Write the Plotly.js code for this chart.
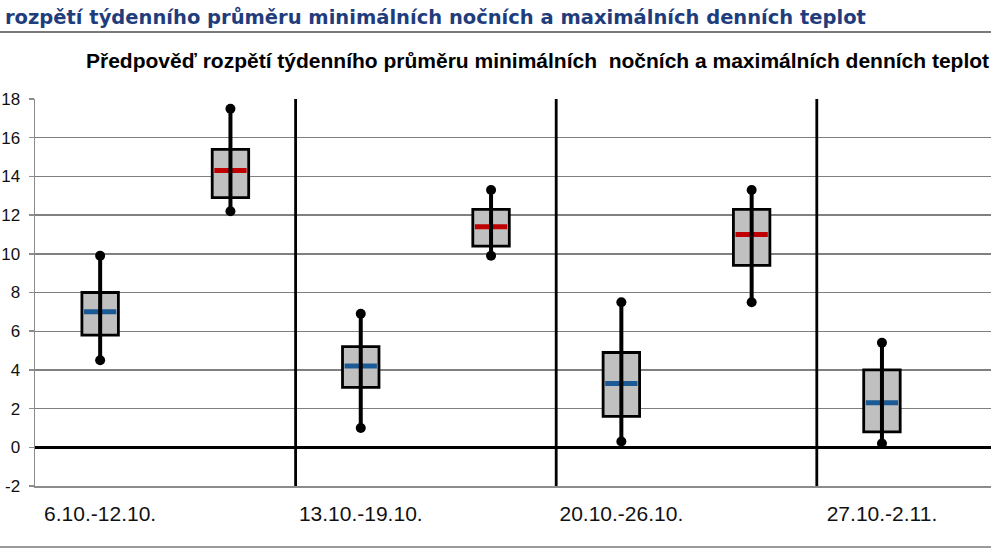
<!DOCTYPE html>
<html>
<head>
<meta charset="utf-8">
<script src="https://cdn.plot.ly/plotly-3.0.1.min.js"></script>
<style>
html,body{margin:0;padding:0;background:#fff;}
#chart{width:991px;height:558px;}
</style>
</head>
<body>
<div id="chart"></div>
<script>
// ---- data ----
const weeks = ['6.10.-12.10.', '13.10.-19.10.', '20.10.-26.10.', '27.10.-2.11.'];
// weekly average of minimum night temperatures
const minLow  = [4.5, 1.0, 0.3, 0.2];
const minQ1   = [5.8, 3.1, 1.6, 0.8];
const minMed  = [7.0, 4.2, 3.3, 2.3];
const minQ3   = [8.0, 5.2, 4.9, 4.0];
const minHigh = [9.9, 6.9, 7.5, 5.4];
// weekly average of maximum day temperatures
const maxLow  = [12.2, 9.9, 7.5];
const maxQ1   = [12.9, 10.4, 9.4];
const maxMed  = [14.3, 11.4, 11.0];
const maxQ3   = [15.4, 12.3, 12.3];
const maxHigh = [17.5, 13.3, 13.3];
const yTicks  = [-2, 0, 2, 4, 6, 8, 10, 12, 14, 16, 18];
const yTickLabels = ['-2', '0', '2', '4', '6', '8', '10', '12', '14', '16', '18'];

const headingText = 'rozpětí týdenního průměru minimálních nočních a maximálních denních teplot';
const titleText = 'Předpověď rozpětí týdenního průměru minimálních  nočních a maximálních denních teplot';

// ---- layout helpers ----
const W = 991, H = 558;
const mL = 35, mR = 0, mT = 99, mB = 72;
const plotW = W - mL - mR, plotH = H - mT - mB;
const weekPx = 260.6;
const xMax = plotW / weekPx;
const offMin = 0.25, offMax = 0.75;
const boxW = 0.14, medHalf = 0.062;
const px2paperX = p => (p - mL) / plotW;
const px2paperY = p => (H - mB - p) / plotH;

function pos(arr, off) { return arr.map((_, i) => i + off); }

function segX(arr, off, half) {
  const out = [];
  arr.forEach((_, i) => { out.push(i + off - half, i + off + half, null); });
  return out;
}
function segY(a, b) {
  const out = [];
  a.forEach((v, i) => { out.push(v, b ? b[i] : v, null); });
  return out;
}

function boxTraces(low, q1, med, q3, high, off, medColor, name) {
  return [
    {
      type: 'bar', name: name, x: pos(q1, off), base: q1,
      y: q3.map((v, i) => v - q1[i]), width: boxW,
      marker: {color: '#c0c0c0', line: {color: '#000', width: 2.8}},
      hoverinfo: 'skip', showlegend: false
    },
    {
      type: 'scatter', mode: 'lines', x: segX(med, off, medHalf), y: segY(med),
      line: {color: medColor, width: 5}, hoverinfo: 'skip', showlegend: false
    },
    {
      type: 'scatter', mode: 'lines+markers', x: segX(low, off, 0), y: segY(low, high),
      line: {color: '#000', width: 4}, marker: {color: '#000', size: 10},
      hoverinfo: 'skip', showlegend: false
    }
  ];
}

const data = [
  ...boxTraces(minLow, minQ1, minMed, minQ3, minHigh, offMin, '#1c5a96', 'min'),
  ...boxTraces(maxLow, maxQ1, maxMed, maxQ3, maxHigh, offMax, '#c00000', 'max')
];

const shapes = [];
for (let i = 1; i < weeks.length; i++) {
  shapes.push({type: 'line', xref: 'x', yref: 'paper', x0: i, x1: i, y0: 0, y1: 1,
               line: {color: '#000', width: 2.8}, layer: 'above'});
}
// rule under heading and bottom rule
shapes.push({type: 'line', xref: 'paper', yref: 'paper', x0: px2paperX(0), x1: px2paperX(W),
             y0: px2paperY(32), y1: px2paperY(32), line: {color: '#7a7a7a', width: 2}});
shapes.push({type: 'line', xref: 'paper', yref: 'paper', x0: px2paperX(0), x1: px2paperX(W),
             y0: px2paperY(547), y1: px2paperY(547), line: {color: '#9a9a9a', width: 2}});

const layout = {
  width: W, height: H,
  margin: {l: mL, r: mR, t: mT, b: mB, pad: 0},
  paper_bgcolor: '#fff', plot_bgcolor: '#fff',
  showlegend: false, barmode: 'overlay',
  font: {family: 'Liberation Sans, Arial, sans-serif', color: '#111', size: 16},
  xaxis: {
    type: 'linear', range: [0, xMax], fixedrange: true,
    tickvals: pos(weeks, offMin), ticktext: weeks,
    showgrid: false, zeroline: false, ticks: '', ticklabelstandoff: 8,
    showline: true, linecolor: '#8c8c8c', linewidth: 1.5,
    tickfont: {size: 21, color: '#111'}
  },
  yaxis: {
    range: [-2, 18], fixedrange: true, tickvals: yTicks, ticktext: yTickLabels,
    showgrid: true, gridcolor: '#808080', gridwidth: 1.4,
    zeroline: true, zerolinecolor: '#000', zerolinewidth: 3.5,
    showline: true, linecolor: '#8c8c8c', linewidth: 1.5,
    ticks: 'outside', ticklen: 5, tickcolor: '#8c8c8c', tickwidth: 1.5,
    ticklabelstandoff: 5,
    tickfont: {size: 17, color: '#111'}
  },
  shapes: shapes,
  annotations: [
    {text: '<b>' + headingText + '</b>', xref: 'paper', yref: 'paper',
     x: px2paperX(3), y: px2paperY(17), xanchor: 'left', yanchor: 'middle', showarrow: false,
     font: {family: 'DejaVu Sans, Verdana, sans-serif', size: 19.5, color: '#1f3d7c'}},
    {text: '<b>' + titleText + '</b>', xref: 'paper', yref: 'paper',
     x: px2paperX(84), y: px2paperY(60), xanchor: 'left', yanchor: 'middle', showarrow: false,
     font: {family: 'Liberation Sans, Arial, sans-serif', size: 21, color: '#000'}}
  ]
};

Plotly.newPlot('chart', data, layout, {displayModeBar: false, staticPlot: true});
</script>
</body>
</html>
